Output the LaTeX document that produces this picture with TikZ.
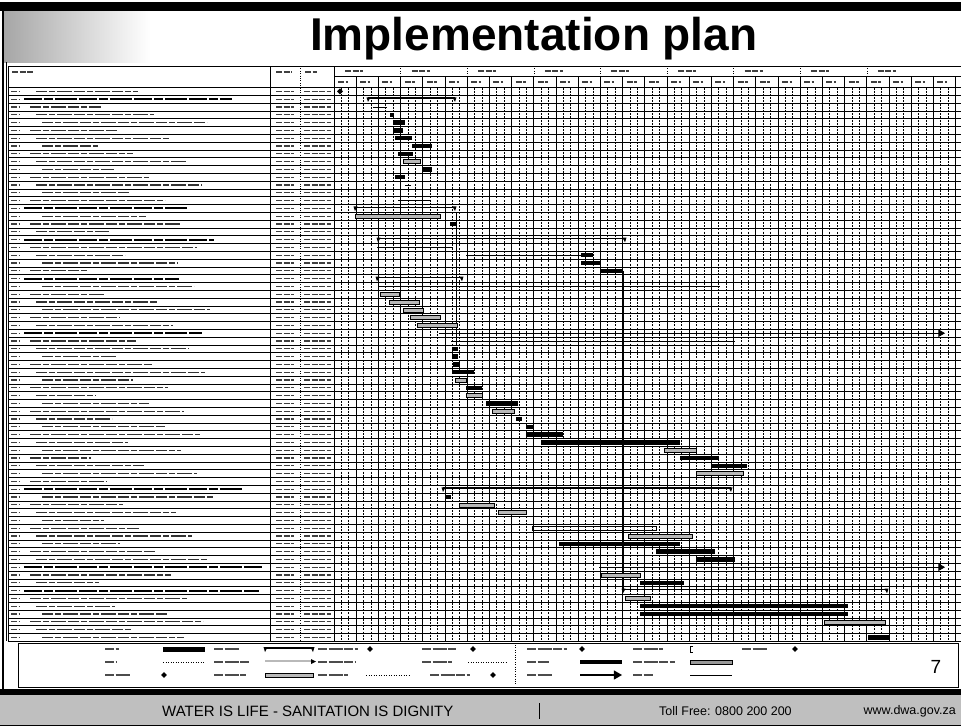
\documentclass[tikz,border=0pt]{standalone}
\usepackage{fontspec}
\setmainfont{Liberation Sans}
\usetikzlibrary{positioning,shapes.geometric,arrows}

\tikzset{
  rowline/.style={line width=0.6pt},
  majline/.style={line width=0.9pt},
  minline/.style={line width=0.7pt, dash pattern=on 2pt off 1.2pt},
  txt/.style={black!80, line width=1.3pt, dash pattern=on 11pt off 2pt on 6pt off 2pt on 15pt off 2pt},
  txtbold/.style={black, line width=2pt, dash pattern=on 18pt off 2pt on 9pt off 2pt on 22pt off 2pt},
  cell/.style={black!75, line width=1.3pt, dash pattern=on 6pt off 1.5pt},
  lgd/.style={black!70, line width=1.2pt, dash pattern=on 9pt off 1.5pt on 14pt off 1.5pt},
  inact/.style={draw=black, line width=0.5pt, fill=gray!55},
  sumline/.style={line width=1.6pt},
  thinline/.style={line width=0.8pt},
  mstone/.style={diamond, fill=black, inner sep=0pt, minimum size=6pt},
}

% gantt bars, #1 = row, #2 = start x, #3 = end x
\newcommand{\gtask}[3]{\fill (#2,#1-0.78) rectangle (#3,#1-0.22);}
\newcommand{\ginact}[3]{\filldraw[inact] (#2,#1-0.76) rectangle (#3,#1-0.24);}
\newcommand{\gline}[3]{\draw[thinline] (#2,#1-0.5) -- (#3,#1-0.5);}
\newcommand{\glong}[3]{\draw[thinline,-triangle 60] (#2,#1-0.5) -- (#3,#1-0.5);}
\newcommand{\gsum}[3]{\draw[sumline] (#2,#1-0.62) -- (#3,#1-0.62);
  \fill (#2-1.5,#1-0.75) -- (#2+2.5,#1-0.75) -- (#2,#1-0.15) -- cycle;
  \fill (#3+1.5,#1-0.75) -- (#3-2.5,#1-0.75) -- (#3,#1-0.15) -- cycle;}
\newcommand{\gmile}[2]{\node[mstone] (ms#1) at (#2,#1-0.5) {};}

\begin{document}
\begin{tikzpicture}[x=1pt,y=-1pt]
\useasboundingbox (0,0) rectangle (961,726);

% top band, logo patch, title
\fill (0,2) rectangle (961,11);
\shade[left color=gray!70,right color=white] (3,11) rectangle (150,62);
\node[anchor=base west, inner sep=0pt, font=\fontsize{46}{46}\selectfont\bfseries] (title) at (310,50) {Implementation plan};

% printout frame and header
\draw[line width=1.2pt] (3,11) -- (3,689);
\draw (6,62) -- (6,641.3);
\draw (8,66) -- (8,641.3);
\draw (8,66) -- (961,66);
\draw (334,76) -- (961,76);
\draw[line width=0.8pt] (270,66) -- (270,641.3);
\draw[dotted] (300,66) -- (300,641.3);
\draw[line width=0.8pt] (334,66) -- (334,641.3);
\draw[cell] (12,72) -- ++(22,0);
\draw[cell] (276,72) -- ++(16,0);
\draw[cell] (305,72) -- ++(12,0);
\foreach \i in {0,...,27} {
  \draw[majline] ({334+22.2*\i},76) -- ({334+22.2*\i},641.3);
  \draw[cell] ({338+22.2*\i},82) -- ++(10,0);
  \foreach \j in {1,2}
    \draw[minline] ({334+22.2*\i+7.4*\j},87.5) -- ({334+22.2*\i+7.4*\j},641.3);
}
\draw[majline] (955.6,76) -- (955.6,641.3);
\foreach \i in {0,...,8} {
  \draw[dotted] ({334+66.6*\i},66) -- ({334+66.6*\i},76);
  \draw[cell] ({345+66.6*\i},71) -- ++(18,0);
}

% task rows and bars
\begin{scope}[yshift=-87.5pt,y=-7.8pt]
  \foreach \k in {0,...,71} \draw[rowline] (8,\k) -- (961,\k);
  \foreach \k in {1,...,71} {
    \pgfmathtruncatemacro\isbold{(\k==2)||(\k==16)||(\k==20)||(\k==25)||(\k==32)||(\k==52)||(\k==62)||(\k==65)}
    \pgfmathsetmacro\len{55+mod(\k*47,125)}
    \pgfmathsetmacro\ind{30+6*mod(\k*7,3)}
    \ifnum\isbold=1
      \draw[txtbold] (24,\k-0.5) -- ++({150+mod(\k*29,90)},0);
    \else
      \draw[txt] (\ind,\k-0.5) -- ++(\len,0);
    \fi
    \draw[cell] (11,\k-0.5) -- ++(9,0);
    \draw[cell] (276,\k-0.5) -- ++(18,0);
    \draw[cell] (304,\k-0.5) -- ++(27,0);
  }

  % links
  \draw[thinline] (456,16) -- (456,33);
  \draw[thinline] (623.5,23.5) -- (623.5,64.5);

  \gmile{1}{340}
  \gsum{2}{368}{455}
  \gline{3}{373}{387}
  \gtask{4}{390}{394}
  \gtask{5}{393}{405}
  \gtask{6}{393}{403}
  \gtask{7}{395}{412}
  \gtask{8}{412}{432}
  \gtask{9}{398}{413}
  \ginact{10}{403}{420}
  \gtask{11}{423}{432}
  \gtask{12}{395}{405}
  \gline{13}{405}{411}
  \gline{15}{398}{430}
  \gsum{16}{355}{455}
  \ginact{17}{355}{440}
  \gtask{18}{450}{456}
  \gsum{20}{378}{625}
  \gline{21}{377}{453}
  \gline{22}{466}{581}
  \gtask{22}{581}{593}
  \gtask{23}{581}{601}
  \gtask{24}{601}{623}
  \gsum{25}{377}{462}
  \gline{26}{378}{720}
  \ginact{27}{380}{399}
  \ginact{28}{389}{419}
  \ginact{29}{403}{423}
  \ginact{30}{410}{440}
  \ginact{31}{417}{457}
  \glong{32}{439}{945}
  \gline{33}{451}{735}
  \gtask{34}{452}{458}
  \gtask{35}{452}{458}
  \gtask{36}{453}{460}
  \gtask{37}{452}{474}
  \ginact{38}{455}{466}
  \gtask{39}{466}{482}
  \ginact{40}{466}{482}
  \gtask{41}{486}{518}
  \ginact{42}{492}{514}
  \gtask{43}{516}{522}
  \gtask{44}{526}{534}
  \gtask{45}{526}{563}
  \gtask{46}{541}{680}
  \ginact{47}{664}{696}
  \gtask{48}{680}{719}
  \gtask{49}{711}{747}
  \ginact{50}{696}{743}
  \gsum{52}{443}{731}
  \gtask{53}{445}{451}
  \ginact{54}{459}{494}
  \ginact{55}{498}{526}
  \draw[line width=0.8pt] (532,56.25) rectangle (656,56.75);
  \ginact{58}{628}{692}
  \gtask{59}{559}{680}
  \gtask{60}{656}{715}
  \gtask{61}{696}{735}
  \glong{62}{599}{945}
  \ginact{63}{601}{640}
  \gtask{64}{640}{684}
  \gsum{65}{623}{887}
  \ginact{66}{625}{650}
  \gtask{67}{640}{848}
  \gtask{68}{640}{848}
  \ginact{69}{824}{885}
  \gtask{71}{868}{889}
\end{scope}

% legend
\draw[line width=0.8pt] (18,643) rectangle (958,687);
\draw[dotted] (515,645) -- (515,685);
\draw[lgd] (105,649) -- ++(14,0);
\fill (163,647) rectangle (205,651.5);
\draw[lgd] (105,662) -- ++(12,0);
\draw[line width=1pt, dash pattern=on 1pt off 1.5pt] (163,662) -- (205,662);
\draw[lgd] (105,675) -- ++(26,0);
\node[mstone] (lm1) at (164,675) {};
\draw[lgd] (214,649) -- ++(26,0);
\draw[sumline] (265,648) -- (313,648);
\fill (263.5,647) -- (267.5,647) -- (265,652) -- cycle;
\fill (314.5,647) -- (310.5,647) -- (313,652) -- cycle;
\draw[lgd] (214,662) -- ++(36,0);
\draw[line width=2pt, gray!55] (265,661) -- (313,661);
\fill (311,659) -- (316,661.5) -- (311,664) -- cycle;
\draw[lgd] (214,675) -- ++(32,0);
\filldraw[inact] (265,673) rectangle (313,677);
\draw[lgd] (318,649) -- ++(40,0);
\node[mstone] (lm2) at (370,649) {};
\draw[lgd] (318,662) -- ++(38,0);
\draw[lgd] (318,675) -- ++(30,0);
\draw[line width=1pt, dash pattern=on 1pt off 1.5pt] (366,675) -- (411,675);
\draw[lgd] (422,649) -- ++(34,0);
\node[mstone] (lm3) at (473,649) {};
\draw[lgd] (422,662) -- ++(30,0);
\draw[line width=1pt, dash pattern=on 1pt off 1.5pt] (468,662) -- (507,662);
\draw[lgd] (430,675) -- ++(40,0);
\node[mstone] (lm4) at (493,675) {};
\draw[lgd] (527,649) -- ++(40,0);
\node[mstone] (lm5) at (582,649) {};
\draw[lgd] (527,662) -- ++(22,0);
\fill (580,660) rectangle (622,664);
\draw[lgd] (527,675) -- ++(26,0);
\draw[line width=1.2pt,-triangle 60] (580,675) -- (622,675);
\draw[lgd] (633,649) -- ++(30,0);
\draw[line width=1pt] (693,646) -- (690,646) -- (690,652) -- (693,652);
\draw[lgd] (633,662) -- ++(42,0);
\filldraw[inact, fill=gray!80] (690,660) rectangle (732,664);
\draw[lgd] (633,675) -- ++(20,0);
\draw[line width=1pt] (690,675) -- (732,675);
\draw[lgd] (742,649) -- ++(26,0);
\node[mstone] (lm6) at (795,649) {};
\node[font=\fontsize{19}{19}\selectfont, inner sep=0pt] (pgno) at (936,667) {7};

% footer
\fill (0,689) rectangle (961,695);
\fill[gray!50] (0,695) rectangle (961,726);
\draw[line width=0.8pt] (0,725.5) -- (961,725.5);
\node[anchor=west, inner sep=0pt, font=\fontsize{15}{15}\selectfont] (motto) at (162,711) {WATER IS LIFE - SANITATION IS DIGNITY};
\draw[line width=0.8pt] (539,703) -- (539,719);
\node[anchor=west, inner sep=0pt, font=\fontsize{12.5}{12.5}\selectfont] (toll) at (659,711) {Toll Free: 0800 200 200};
\node[anchor=east, inner sep=0pt, font=\fontsize{12.5}{12.5}\selectfont] (web) at (956,711) {www.dwa.gov.za};
\end{tikzpicture}
\end{document}
